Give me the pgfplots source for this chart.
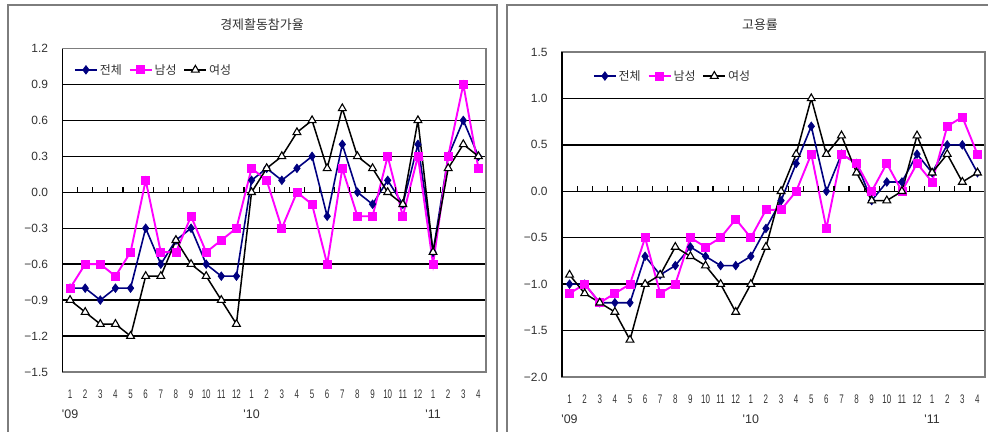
\documentclass[border=0pt]{standalone}
\usepackage{fontspec}
\setmainfont{Liberation Sans}
\newfontfamily\kr{Noto Sans CJK KR}
\usepackage{graphicx}
\usepackage{pgfplots}
\usepackage{pgfplotstable}
\pgfplotsset{compat=1.18}
\definecolor{navyS}{RGB}{0,0,128}
\definecolor{magS}{RGB}{255,0,255}
\definecolor{txt}{RGB}{50,50,50}
\definecolor{frameC}{RGB}{125,125,125}
\newcommand{\xl}[1]{\scalebox{0.64}[1]{#1}}

\pgfplotstableread{
x a b c
1 -0.8 -0.8 -0.9
2 -0.8 -0.6 -1.0
3 -0.9 -0.6 -1.1
4 -0.8 -0.7 -1.1
5 -0.8 -0.5 -1.2
6 -0.3 0.1 -0.7
7 -0.6 -0.5 -0.7
8 -0.4 -0.5 -0.4
9 -0.3 -0.2 -0.6
10 -0.6 -0.5 -0.7
11 -0.7 -0.4 -0.9
12 -0.7 -0.3 -1.1
13 0.1 0.2 0.0
14 0.2 0.1 0.2
15 0.1 -0.3 0.3
16 0.2 0.0 0.5
17 0.3 -0.1 0.6
18 -0.2 -0.6 0.2
19 0.4 0.2 0.7
20 0.0 -0.2 0.3
21 -0.1 -0.2 0.2
22 0.1 0.3 0.0
23 -0.1 -0.2 -0.1
24 0.4 0.3 0.6
25 -0.5 -0.6 -0.5
26 0.3 0.3 0.2
27 0.6 0.9 0.4
28 0.3 0.2 0.3
}\tabA

\pgfplotstableread{
x a b c
1 -1.0 -1.1 -0.9
2 -1.0 -1.0 -1.1
3 -1.2 -1.2 -1.2
4 -1.2 -1.1 -1.3
5 -1.2 -1.0 -1.6
6 -0.7 -0.5 -1.0
7 -0.9 -1.1 -0.9
8 -0.8 -1.0 -0.6
9 -0.6 -0.5 -0.7
10 -0.7 -0.6 -0.8
11 -0.8 -0.5 -1.0
12 -0.8 -0.3 -1.3
13 -0.7 -0.5 -1.0
14 -0.4 -0.2 -0.6
15 -0.1 -0.2 0.0
16 0.3 0.0 0.4
17 0.7 0.4 1.0
18 0.0 -0.4 0.4
19 0.4 0.4 0.6
20 0.3 0.3 0.2
21 -0.1 0.0 -0.1
22 0.1 0.3 -0.1
23 0.1 0.0 0.0
24 0.4 0.3 0.6
25 0.2 0.1 0.2
26 0.5 0.7 0.4
27 0.5 0.8 0.1
28 0.2 0.4 0.2
}\tabB

\pgfplotsset{
  panel/.style={
    scale only axis, xmin=0.5, xmax=28.5, clip=false,
    axis line style={frameC, line width=1.2bp},
    ymajorgrids, grid style={black, line width=1.4bp},
    major tick length=0pt,
    xtick={1,...,28},
    xticklabels={{\xl{1}\\\textquotesingle 09},\xl{2},\xl{3},\xl{4},\xl{5},\xl{6},\xl{7},\xl{8},\xl{9},\xl{10},\xl{11},\xl{12},
      {\xl{1}\\\textquotesingle 10},\xl{2},\xl{3},\xl{4},\xl{5},\xl{6},\xl{7},\xl{8},\xl{9},\xl{10},\xl{11},\xl{12},
      {\xl{1}\\\textquotesingle 11},\xl{2},\xl{3},\xl{4}},
    xticklabel style={align=center, font=\fontsize{12.5}{20}\selectfont, text=txt, yshift=-14bp},
    yticklabel style={font=\fontsize{12}{14}\selectfont, text=txt, xshift=-11bp},
    legend columns=3,
    legend style={draw=none, fill=none, font=\kr\fontsize{12}{14}\selectfont, text=txt,
      /tikz/every even column/.append style={column sep=5bp}},
    legend image code/.code={\draw[mark repeat=2,mark phase=2] plot coordinates {(0bp,0bp) (11bp,0bp) (22bp,0bp)};},
  },
  sA/.style={navyS, line width=1.6bp, mark=diamond*, mark size=4.2bp, mark options={fill=navyS, solid, line width=0.8bp}},
  sB/.style={magS, line width=1.9bp, mark=square*, mark size=4bp, mark options={fill=magS, solid, line width=0.8bp}},
  sC/.style={black, line width=1.5bp, mark=triangle*, mark size=4.5bp, mark options={fill=white, solid, line width=1.1bp}},
}

\begin{document}
\begin{tikzpicture}
\useasboundingbox (0,0) rectangle (988bp,-432bp);
\draw[frameC, line width=1.4bp] (8bp,-5bp) rectangle (497bp,-460bp);
\draw[frameC, line width=1.4bp] (507bp,-5bp) rectangle (1010bp,-460bp);
\node[text=txt, font=\kr\fontsize{13}{15}\selectfont] at (262bp,-25bp) {경제활동참가율};
\node[text=txt, font=\kr\fontsize{13}{15}\selectfont] at (760bp,-25bp) {고용률};

\begin{axis}[panel, at={(62.5bp,-372bp)}, anchor=south west, width=423.5bp, height=323.5bp,
  ymin=-1.5, ymax=1.2, ytick={-1.5,-1.2,-0.9,-0.6,-0.3,0,0.3,0.6,0.9,1.2},
  yticklabels={−1.5,−1.2,−0.9,−0.6,−0.3,0.0,0.3,0.6,0.9,1.2},
  legend style={at={(0.02,0.934)}, anchor=west}]
\addplot[sA] table[x=x, y=a] {\tabA};
\addlegendentry{전체}
\addplot[sB] table[x=x, y=b] {\tabA};
\addlegendentry{남성}
\addplot[sC] table[x=x, y=c] {\tabA};
\addlegendentry{여성}
\draw[black, line width=1.8bp] (rel axis cs:0,0) -- (rel axis cs:0,1);
\pgfplotsinvokeforeach{1.5,2.5,...,27.5}{\draw[black, line width=1.2bp] (axis cs:#1,0) -- ([yshift=5bp]axis cs:#1,0);}
\end{axis}

\begin{axis}[panel, at={(562bp,-377bp)}, anchor=south west, width=423bp, height=325bp,
  ymin=-2, ymax=1.5, ytick={-2,-1.5,-1,-0.5,0,0.5,1,1.5},
  yticklabels={−2.0,−1.5,−1.0,−0.5,0.0,0.5,1.0,1.5},
  legend style={at={(0.066,0.926)}, anchor=west}]
\addplot[sA] table[x=x, y=a] {\tabB};
\addlegendentry{전체}
\addplot[sB] table[x=x, y=b] {\tabB};
\addlegendentry{남성}
\addplot[sC] table[x=x, y=c] {\tabB};
\addlegendentry{여성}
\draw[black, line width=1.8bp] (rel axis cs:0,0) -- (rel axis cs:0,1);
\pgfplotsinvokeforeach{1.5,2.5,...,27.5}{\draw[black, line width=1.2bp] (axis cs:#1,0) -- ([yshift=5bp]axis cs:#1,0);}
\end{axis}
\end{tikzpicture}
\end{document}
